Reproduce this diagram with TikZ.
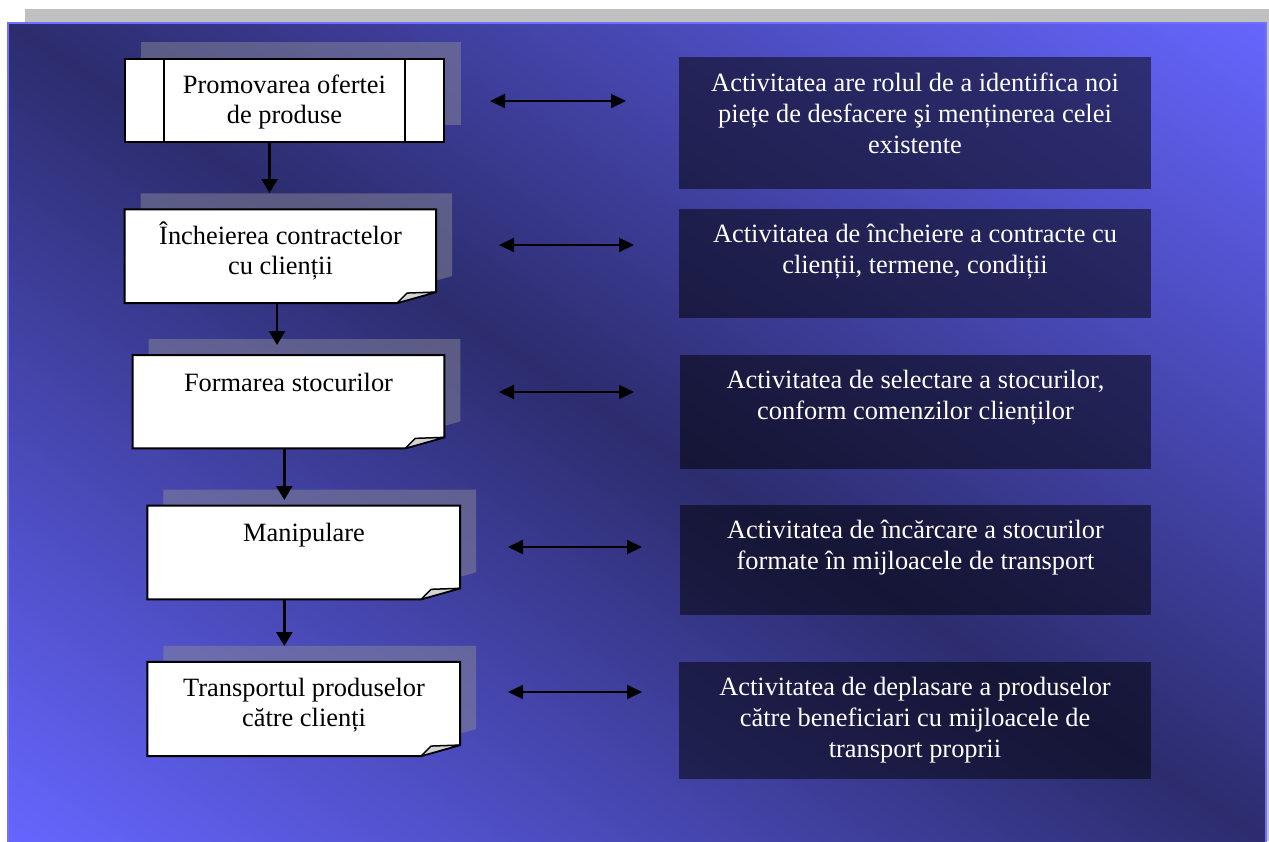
\documentclass[tikz,border=0pt]{standalone}
\usepackage{fontspec}
\setmainfont{Liberation Serif}
\usetikzlibrary{arrows.meta,calc}

\definecolor{panelbright}{RGB}{102,102,255}
\definecolor{paneldark}{RGB}{44,44,110}
\definecolor{panelrim}{RGB}{112,112,255}
\definecolor{backdrop}{RGB}{192,192,192}
\definecolor{shadowtone}{RGB}{136,136,150}
\definecolor{foldtone}{RGB}{212,212,212}

\tikzset{
  boxarea/.style={draw=none, inner sep=0pt, outer sep=0pt},
  boxshadow/.style={fill=shadowtone, fill opacity=0.5},
  boxframe/.style={fill=white, draw=black, line width=2pt, line join=miter},
  foldtri/.style={fill=foldtone, draw=black, line width=1.5pt, line join=round},
  infobox/.style={fill=black, fill opacity=0.5, draw=none, inner sep=0pt, outer sep=0pt},
  lbl/.style={inner sep=0pt, anchor=north, align=center, text=black,
    font=\fontsize{26.4}{30}\selectfont},
  infotxt/.style={inner sep=0pt, anchor=north, align=center, text=white,
    font=\fontsize{26.4}{31}\selectfont},
  vflow/.style={line width=2.5pt, -{Triangle[length=14pt,width=16pt]}},
  dflow/.style={line width=2pt,
    {Triangle[length=15pt,width=14pt]}-{Triangle[length=15pt,width=14pt]}},
}

% fixed-height strut so that every label's first baseline sits 26pt below its top
\newcommand\tstrut{\rule{0pt}{26pt}}

% document-shaped step box with a shadow and a turned-up corner
% #1 name, #2 centre x, #3 centre y, #4 width, #5 height
\newcommand\docbox[5]{%
  \node[boxarea, minimum width=#4pt, minimum height=#5pt] (#1) at (#2,#3) {};
  \fill[boxshadow] ($(#1.north west)+(16,-16)$) -- ($(#1.north east)+(16,-16)$)
     -- ($(#1.south east)+(16,-27)$) -- ($(#1.south east)+(-23,-16)$)
     -- ($(#1.south west)+(16,-16)$) -- cycle;
  \filldraw[boxframe] (#1.north west) -- (#1.north east) -- ($(#1.south east)+(0,-11)$)
     -- ($(#1.south east)+(-39,0)$) -- (#1.south west) -- cycle;
  \filldraw[foldtri] ($(#1.south east)+(-39,0)$) -- ($(#1.south east)+(-29,-10)$)
     -- ($(#1.south east)+(0,-11)$) -- cycle;
}

\begin{document}
\begin{tikzpicture}[x=1pt, y=-1pt]
\useasboundingbox (0,0) rectangle (1269,841);

% grey slide shadow
\fill[backdrop] (25,9) rectangle (1269,841);

% diagonal two-way gradient of the slide: bright corners bottom-left and top-right
\begin{scope}
  \clip (8,23) rectangle (1266,841);
  \begin{scope}[transform canvas={cm={629,-409,629,409,(637pt,-432pt)}}]
    \shade[top color=panelbright, bottom color=panelbright, middle color=paneldark]
      (-1pt,-1pt) rectangle (1pt,1pt);
  \end{scope}
\end{scope}
\draw[panelrim, line width=1.5pt] (8,23) rectangle (1266,845);

% step 1: predefined-process box
\node[boxarea, minimum width=319.5pt, minimum height=83pt] (b1) at (284.3,100) {};
\fill[boxshadow] ($(b1.north west)+(16.5,-16.5)$) rectangle ($(b1.south east)+(16.5,-16.5)$);
\filldraw[boxframe] (b1.north west) rectangle (b1.south east);
\draw[line width=2pt] ($(b1.north west)+(39,0)$) -- ($(b1.south west)+(39,0)$);
\draw[line width=2pt] ($(b1.north east)+(-39,0)$) -- ($(b1.south east)+(-39,0)$);

% steps 2-5: document boxes
\docbox{b2}{280.3}{256.2}{311.5}{93.7}
\docbox{b3}{288.5}{401.7}{311.6}{93.3}
\docbox{b4}{303.7}{552.5}{312.7}{93.6}
\docbox{b5}{303.7}{708.9}{312.7}{94.3}

% step labels
\node[lbl] (t1) at (284.5,67) {\tstrut Promovarea ofertei\\de produse};
\node[lbl] (t2) at (280.5,218) {\tstrut Încheierea contractelor\\cu clienții};
\node[lbl] (t3) at (288.5,365) {\tstrut Formarea stocurilor};
\node[lbl] (t4) at (304,515.5) {\tstrut Manipulare};
\node[lbl] (t5) at (304,670.5) {\tstrut Transportul produselor\\către clienți};

% flow between the steps
\coordinate (v12) at (269.5,193);
\coordinate (v23) at (277,345);
\coordinate (v34) at (284.3,500);
\coordinate (v45) at (284.3,646);
\draw[vflow] (v12 |- b1.south) -- (v12);
\draw[vflow] (v23 |- b2.south) -- (v23);
\draw[vflow] (v34 |- b3.south) -- (v34);
\draw[vflow] (v45 |- b4.south) -- (v45);

% description panels
\node[infobox, minimum width=472pt, minimum height=132pt] (r1) at (915,123.3) {};
\node[infobox, minimum width=472pt, minimum height=109pt] (r2) at (915,263.5) {};
\node[infobox, minimum width=471pt, minimum height=114pt] (r3) at (915.5,412) {};
\node[infobox, minimum width=471pt, minimum height=110pt] (r4) at (915.5,560) {};
\node[infobox, minimum width=472pt, minimum height=117pt] (r5) at (915,720.8) {};

\node[infotxt] (d1) at (915,65.7) {\tstrut Activitatea are rolul de a identifica noi\\piețe de desfacere şi menținerea celei\\existente};
\node[infotxt] (d2) at (915,216.7) {\tstrut Activitatea de încheiere a contracte cu\\clienții, termene, condiții};
\node[infotxt] (d3) at (915.5,362.7) {\tstrut Activitatea de selectare a stocurilor,\\conform comenzilor clienților};
\node[infotxt] (d4) at (915.5,512.7) {\tstrut Activitatea de încărcare a stocurilor\\formate în mijloacele de transport};
\node[infotxt] (d5) at (915,669) {\tstrut Activitatea de deplasare a produselor\\către beneficiari cu mijloacele de\\transport proprii};

% two-way links between steps and descriptions
\coordinate (h1a) at (490,101);  \coordinate (h1b) at (626,101);
\coordinate (h2a) at (499,245);  \coordinate (h2b) at (634,245);
\coordinate (h3a) at (499,392);  \coordinate (h3b) at (634,392);
\coordinate (h4a) at (508,547);  \coordinate (h4b) at (642,547);
\coordinate (h5a) at (508,692);  \coordinate (h5b) at (642,692);
\draw[dflow] (h1a) -- (h1b);
\draw[dflow] (h2a) -- (h2b);
\draw[dflow] (h3a) -- (h3b);
\draw[dflow] (h4a) -- (h4b);
\draw[dflow] (h5a) -- (h5b);
\end{tikzpicture}
\end{document}
